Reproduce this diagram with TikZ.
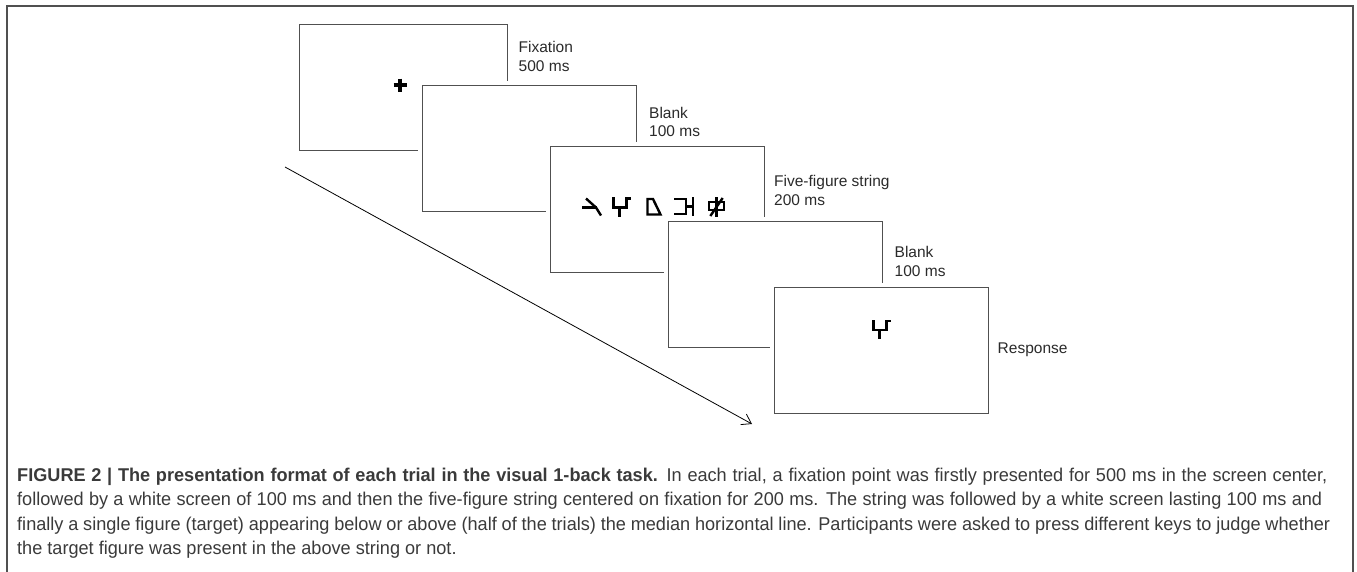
\documentclass[tikz,border=0pt]{standalone}
\usepackage{fontspec}
\setmainfont{Liberation Sans}
\newfontfamily\capfont[FakeStretch=0.98]{Liberation Sans}
\usetikzlibrary{arrows.meta, positioning}
\definecolor{framegray}{HTML}{505050}
\definecolor{inkgray}{HTML}{2A2A2A}
\definecolor{capgray}{HTML}{3A3A3A}
\newcommand{\capline}[2]{\makebox[#1pt][s]{#2}}

\begin{document}
\begin{tikzpicture}[
        x=1pt, y=-1pt,
        screen/.style={
            rectangle,
            minimum width=214pt,
            minimum height=126pt,
            inner sep=0pt,
            draw=framegray,
            line width=1pt,
            fill=white,
            preaction={draw=white, line width=9pt}
        },
        lbl/.style={
            font=\fontsize{15.5}{18.5}\selectfont,
            text=inkgray,
            align=left,
            inner sep=0pt
        },
        glyph/.style={
            line width=2.4pt,
            line cap=rect,
            line join=miter
        },
        arrow/.style={
            line width=0.8pt,
            -{Straight Barb[length=9pt, width=12pt, line width=0.8pt]}
        },
        fork/.pic={
            \draw[glyph] (0,0) -- (0,9) -- (13,9) -- (13,0) -- (16,0);
            \draw[glyph] (6,9) -- (6,17);
        }
    ]

    % Page frame
    \useasboundingbox (0,0) rectangle (1357,571);
    \draw[framegray, line width=1.6pt] (7,580) -- (7,6) -- (1353,6) -- (1353,580);

    % Screens
    \node (fix) [screen, minimum width=208pt] at (403,87) {};
    \node (blank1) [screen] at (529.5,148.5) {};
    \node (string) [screen] at (657.5,209) {};
    \node (blank2) [screen] at (775,284) {};
    \node (resp) [screen] at (881,350) {};

    % Fixation cross
    \draw[glyph, line width=3.2pt, line cap=butt] (393.5,85) -- (406.5,85) (400,78.5) -- (400,91.5);

    % Five-figure string
    \draw[glyph, line cap=butt] (586,198.5) -- (596,207.5) -- (601,215.5);
    \draw[glyph] (583.5,207.5) -- (596,207.5);
    \pic at (613.5,198.5) {fork};
    \draw[glyph] (653,199) -- (647.5,199) -- (647.5,214.5) -- (660.5,214.5) -- cycle;
    \draw[glyph] (675.5,199) -- (686,199) -- (686,214) -- (675.5,214);
    \draw[glyph] (686,206.5) -- (693,206.5);
    \draw[glyph] (693,198.5) -- (693,215);
    \draw[glyph] (709,202) rectangle (724,210);
    \draw[glyph] (716.5,198) -- (716.5,216);
    \draw[glyph] (711,215) -- (722,199);

    % Target figure
    \pic at (873.5,321) {fork};

    % Labels
    \node (fixlbl) [lbl, anchor=north west] at ([xshift=11pt, yshift=-18pt]fix.north east) {Fixation\\500 ms};
    \node (blank1lbl) [lbl, anchor=north west] at ([xshift=12pt, yshift=-22pt]blank1.north east) {Blank\\100 ms};
    \node (stringlbl) [lbl, anchor=north west] at ([xshift=9pt, yshift=-30pt]string.north east) {Five-figure string\\200 ms};
    \node (blank2lbl) [lbl, anchor=north west] at ([xshift=12pt, yshift=-26pt]blank2.north east) {Blank\\100 ms};
    \node (resplbl) [lbl, right=9pt of resp] {Response};

    % Time arrow
    \coordinate (tstart) at (285,167);
    \coordinate (tend) at (752,424);
    \draw[arrow] (tstart) -- (tend);

    % Caption
    \node (caption) [anchor=north west, inner sep=0pt, align=left, text=capgray,
        font=\capfont\fontsize{18.5}{24.5}\selectfont] at (17,467.5)
        {\capline{1310}{\textbf{FIGURE 2 | The presentation format of each trial in the visual 1-back task.} In each trial, a fixation point was firstly presented for 500 ms in the screen center,}\\
        \capline{1305}{followed by a white screen of 100 ms and then the five-figure string centered on fixation for 200 ms. The string was followed by a white screen lasting 100 ms and}\\
        \capline{1313}{finally a single figure (target) appearing below or above (half of the trials) the median horizontal line. Participants were asked to press different keys to judge whether}\\
        the target figure was present in the above string or not.};

\end{tikzpicture}
\end{document}
